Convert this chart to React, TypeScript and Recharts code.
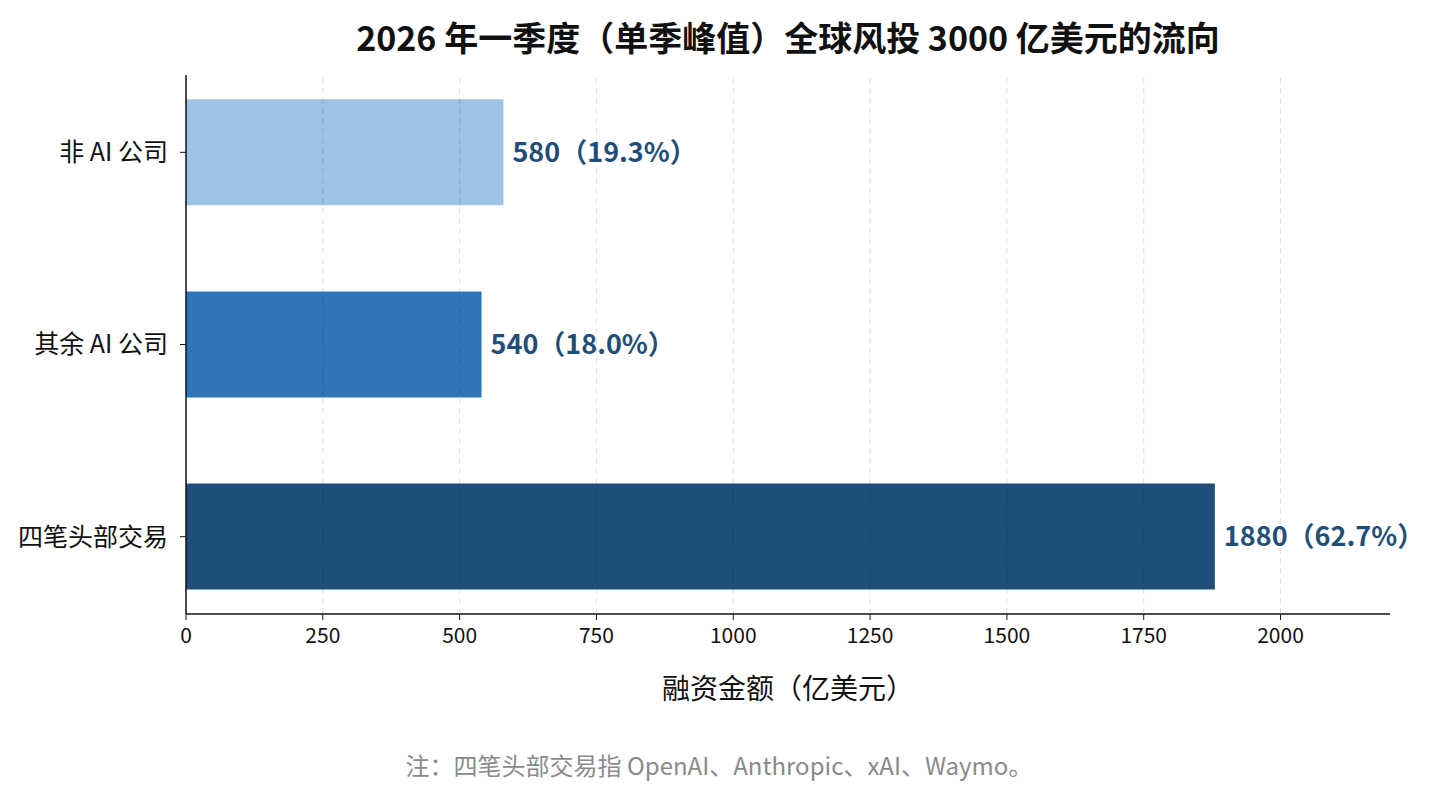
import { BarChart, Bar, XAxis, YAxis, ReferenceLine, Cell, LabelList } from 'recharts';

const categories = ['非 AI 公司', '其余 AI 公司', '四笔头部交易'];
const amounts = [580, 540, 1880];
const shares = ['19.3', '18.0', '62.7'];
const xTicks = [0, 250, 500, 750, 1000, 1250, 1500, 1750, 2000];
const barColors = ['#9dc3e6', '#2e75b6', '#1f4e79'];

const data = categories.map((name, i) => ({
  pos: i,
  name,
  value: amounts[i],
  label: `${amounts[i]}（${shares[i]}%）`,
}));

const FONT = '"Noto Sans CJK SC", "Noto Sans", sans-serif';

export default function App() {
  return (
    <div style={{ position: 'absolute', left: 0, top: 0, width: 1438, height: 786, background: '#fff', fontFamily: FONT }}>
      <div
        style={{
          position: 'absolute',
          left: 186,
          width: 1204,
          top: 14,
          textAlign: 'center',
          fontSize: 34,
          fontWeight: 700,
          color: '#111',
          lineHeight: '46px',
        }}
      >
        2026 年一季度（单季峰值）全球风投 3000 亿美元的流向
      </div>

      <BarChart
        width={1438}
        height={786}
        data={data}
        layout="vertical"
        margin={{ top: 75, right: 48, bottom: 72, left: 6 }}
        style={{ position: 'absolute', left: 0, top: 0 }}
      >
        <XAxis
          type="number"
          dataKey="value"
          domain={[0, 2200]}
          ticks={xTicks}
          allowDataOverflow
          height={100}
          tickSize={6}
          tickMargin={8}
          stroke="#111"
          axisLine={{ stroke: '#111', strokeWidth: 1.5 }}
          tick={{ fill: '#111', fontSize: 21, fontFamily: FONT }}
        />
        <YAxis
          type="number"
          dataKey="pos"
          domain={[-0.4025, 2.4025]}
          ticks={[0, 1, 2]}
          tickFormatter={(i: number) => categories[i] ?? ''}
          width={180}
          tickSize={6}
          tickMargin={12}
          stroke="#111"
          axisLine={{ stroke: '#111', strokeWidth: 1.5 }}
          tick={{ fill: '#111', fontSize: 25, fontFamily: FONT }}
        />
        <Bar dataKey="value" barSize={106} isAnimationActive={false}>
          {data.map((d, i) => (
            <Cell key={d.name} fill={barColors[i]} />
          ))}
          <LabelList
            dataKey="label"
            position="right"
            offset={9}
            fill="#1f4e79"
            fontSize={27}
            fontWeight={700}
            fontFamily={FONT}
          />
        </Bar>
        {xTicks.map((t) => (
          <ReferenceLine key={t} x={t} stroke="rgba(0,0,0,0.12)" strokeDasharray="6 4" />
        ))}
      </BarChart>

      <div
        style={{
          position: 'absolute',
          left: 186,
          width: 1204,
          top: 668,
          textAlign: 'center',
          fontSize: 28,
          color: '#111',
          lineHeight: '38px',
        }}
      >
        融资金额（亿美元）
      </div>

      <div
        style={{
          position: 'absolute',
          left: 0,
          width: 1438,
          top: 748,
          textAlign: 'center',
          fontSize: 24,
          color: '#8a8a8a',
          lineHeight: '34px',
        }}
      >
        注：四笔头部交易指 OpenAI、Anthropic、xAI、Waymo。
      </div>
    </div>
  );
}
